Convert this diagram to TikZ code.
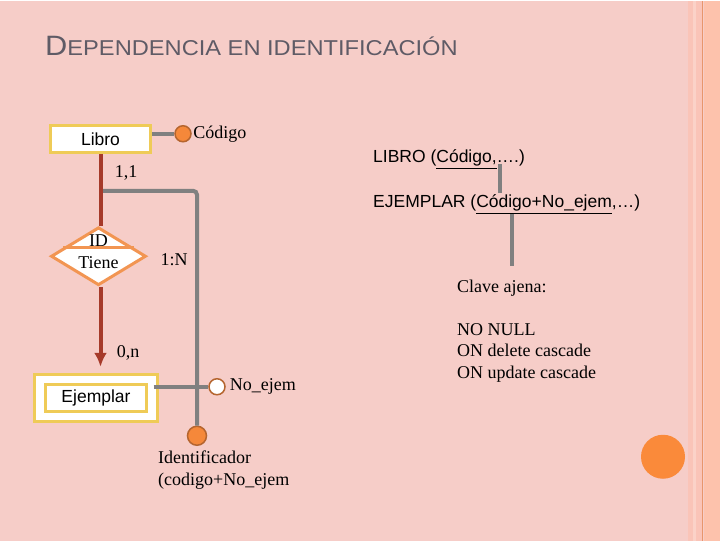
\documentclass[tikz,border=0pt]{standalone}
\usepackage{fontspec}
\setmainfont{Liberation Serif}
\setsansfont{Liberation Sans}
\usetikzlibrary{arrows.meta, positioning, calc, shapes.geometric}

\definecolor{fondo}{HTML}{F6CDC8}
\definecolor{franja}{HTML}{FAC4B8}
\definecolor{franjaclara}{HTML}{FBD2C8}
\definecolor{bordeder}{HTML}{FDC2AC}
\definecolor{lineader}{HTML}{E8966C}
\definecolor{titgris}{HTML}{5F5B66}
\definecolor{rojo}{HTML}{A63A2A}
\definecolor{gris}{HTML}{808080}
\definecolor{amarillo}{HTML}{EFCB57}
\definecolor{naranja}{HTML}{F29552}
\definecolor{naranjaatr}{HTML}{F5883A}
\definecolor{marron}{HTML}{B5652F}
\definecolor{punto}{HTML}{FA8A3A}
\tikzset{>=Latex}

\begin{document}
\begin{tikzpicture}[x=1pt, y=-1pt,
    entidad/.style={draw=amarillo, line width=3pt, fill=white, font=\sffamily\fontsize{17.5}{21}\selectfont,
      minimum width=100pt, minimum height=27pt, inner sep=0pt},
    relacion/.style={diamond, draw=naranja, line width=3pt, fill=white, minimum width=95pt,
      minimum height=58pt, inner sep=0pt},
    clave/.style={circle, draw=marron, line width=1.5pt, fill=naranjaatr, minimum size=16pt, inner sep=0pt},
    atributo/.style={clave, fill=white},
    texto/.style={font=\fontsize{18}{21.5}\selectfont, inner sep=1pt},
    textosans/.style={font=\sffamily\fontsize{17.5}{21}\selectfont, inner sep=0pt},
    enlace/.style={draw=gris, line width=4pt},
    identif/.style={draw=rojo, line width=4pt}]

            % Hintergrund mit Streifen rechts
            \fill[fondo] (0,0) rectangle (720,540);
            \fill[franja] (688,0) rectangle (702,540);
            \fill[franjaclara] (693,0) rectangle (696,540);
            \fill[bordeder] (704,0) rectangle (720,540);
            \draw[lineader, line width=1.5pt] (702.5,0) -- (702.5,540);
            \useasboundingbox (0,0) rectangle (720,540);
            \fill[punto] (663,456) circle (22);

            % Titel
            \node[anchor=base west, inner sep=0pt, text=titgris, font=\sffamily\fontsize{21.5}{25}\selectfont] (titulo) at (45,55)
              {\scalebox{1.1}[1]{{\fontsize{28}{30}\selectfont D}EPENDENCIA EN IDENTIFICACIÓN}};

            % Entidades und Relation
            \node[entidad] (libro) at (100.5,138) {Libro};
            \node[entidad, double=white, double distance=7.5pt, minimum width=112pt, minimum height=37pt] (ejemplar) at (96,397) {Ejemplar};
            \node[relacion] (tiene) at (98.5,255.5) {};
            \node[texto] (idtxt) at (98.5,240) {ID};
            \node[texto] (tienetxt) at (98.5,262) {Tiene};
            \draw[draw=naranja, line width=2.5pt] ($(tiene.west)!0.28!(tiene.north)$) -- ($(tiene.east)!0.28!(tiene.north)$);

            % Attribute
            \node[clave] (codigo) at (183,133) {};
            \node[texto, right=0.5pt of codigo] (codigotxt) {Código};
            \node[atributo] (noejem) at (217,386) {};
            \node[texto, right=3pt of noejem] (noejemtxt) {No\_ejem};
            \node[clave, minimum size=19pt] (ident) at (197,435) {};
            \node[texto, align=left, anchor=north west, inner sep=0pt] (identtxt) at (158,450) {Identificador\\(codigo+No\_ejem};

            % Kardinalitaeten
            \node[texto] (card11) at (126,172) {1,1};
            \node[texto] (card1n) at (174,259) {1:N};
            \node[texto] (card0n) at (128,352) {0,n};

            % Verbindungen
            \coordinate (rama) at ($(libro.south)+(0,37)$);
            \coordinate (pfeil) at (100.5,366);
            \draw[enlace] (libro.east |- codigo) -- (codigo);
            \draw[enlace, rounded corners=4pt] (rama) -| (ident);
            \draw[enlace] (ejemplar.east |- noejem) -- (noejem);
            \draw[identif] (libro.south) -- (libro.south |- tiene.north);
            \draw[identif, -{Latex[length=14pt, width=13pt]}] (libro.south |- tiene.south) -- (pfeil);

            % Relationales Schema rechts
            \node[textosans, anchor=base west] (esqlibro) at (373,162) {LIBRO (\underline{Código,}….)};
            \node[textosans, anchor=base west] (esqejemplar) at (373,207) {EJEMPLAR (\underline{Código+No\_ejem},…)};
            \coordinate (fk1a) at (500,163);
            \coordinate (fk1b) at (500,192);
            \coordinate (fk2a) at (512,213);
            \coordinate (fk2b) at (512,265);
            \draw[enlace, line width=3.5pt] (fk1a) -- (fk1b);
            \draw[enlace, line width=3.5pt] (fk2a) -- (fk2b);
            \node[texto, align=left, anchor=north west, inner sep=0pt] (claveajena) at (457,279)
              {Clave ajena:\\[21.5pt]NO NULL\\ON delete cascade\\ON update cascade};

\end{tikzpicture}
\end{document}
